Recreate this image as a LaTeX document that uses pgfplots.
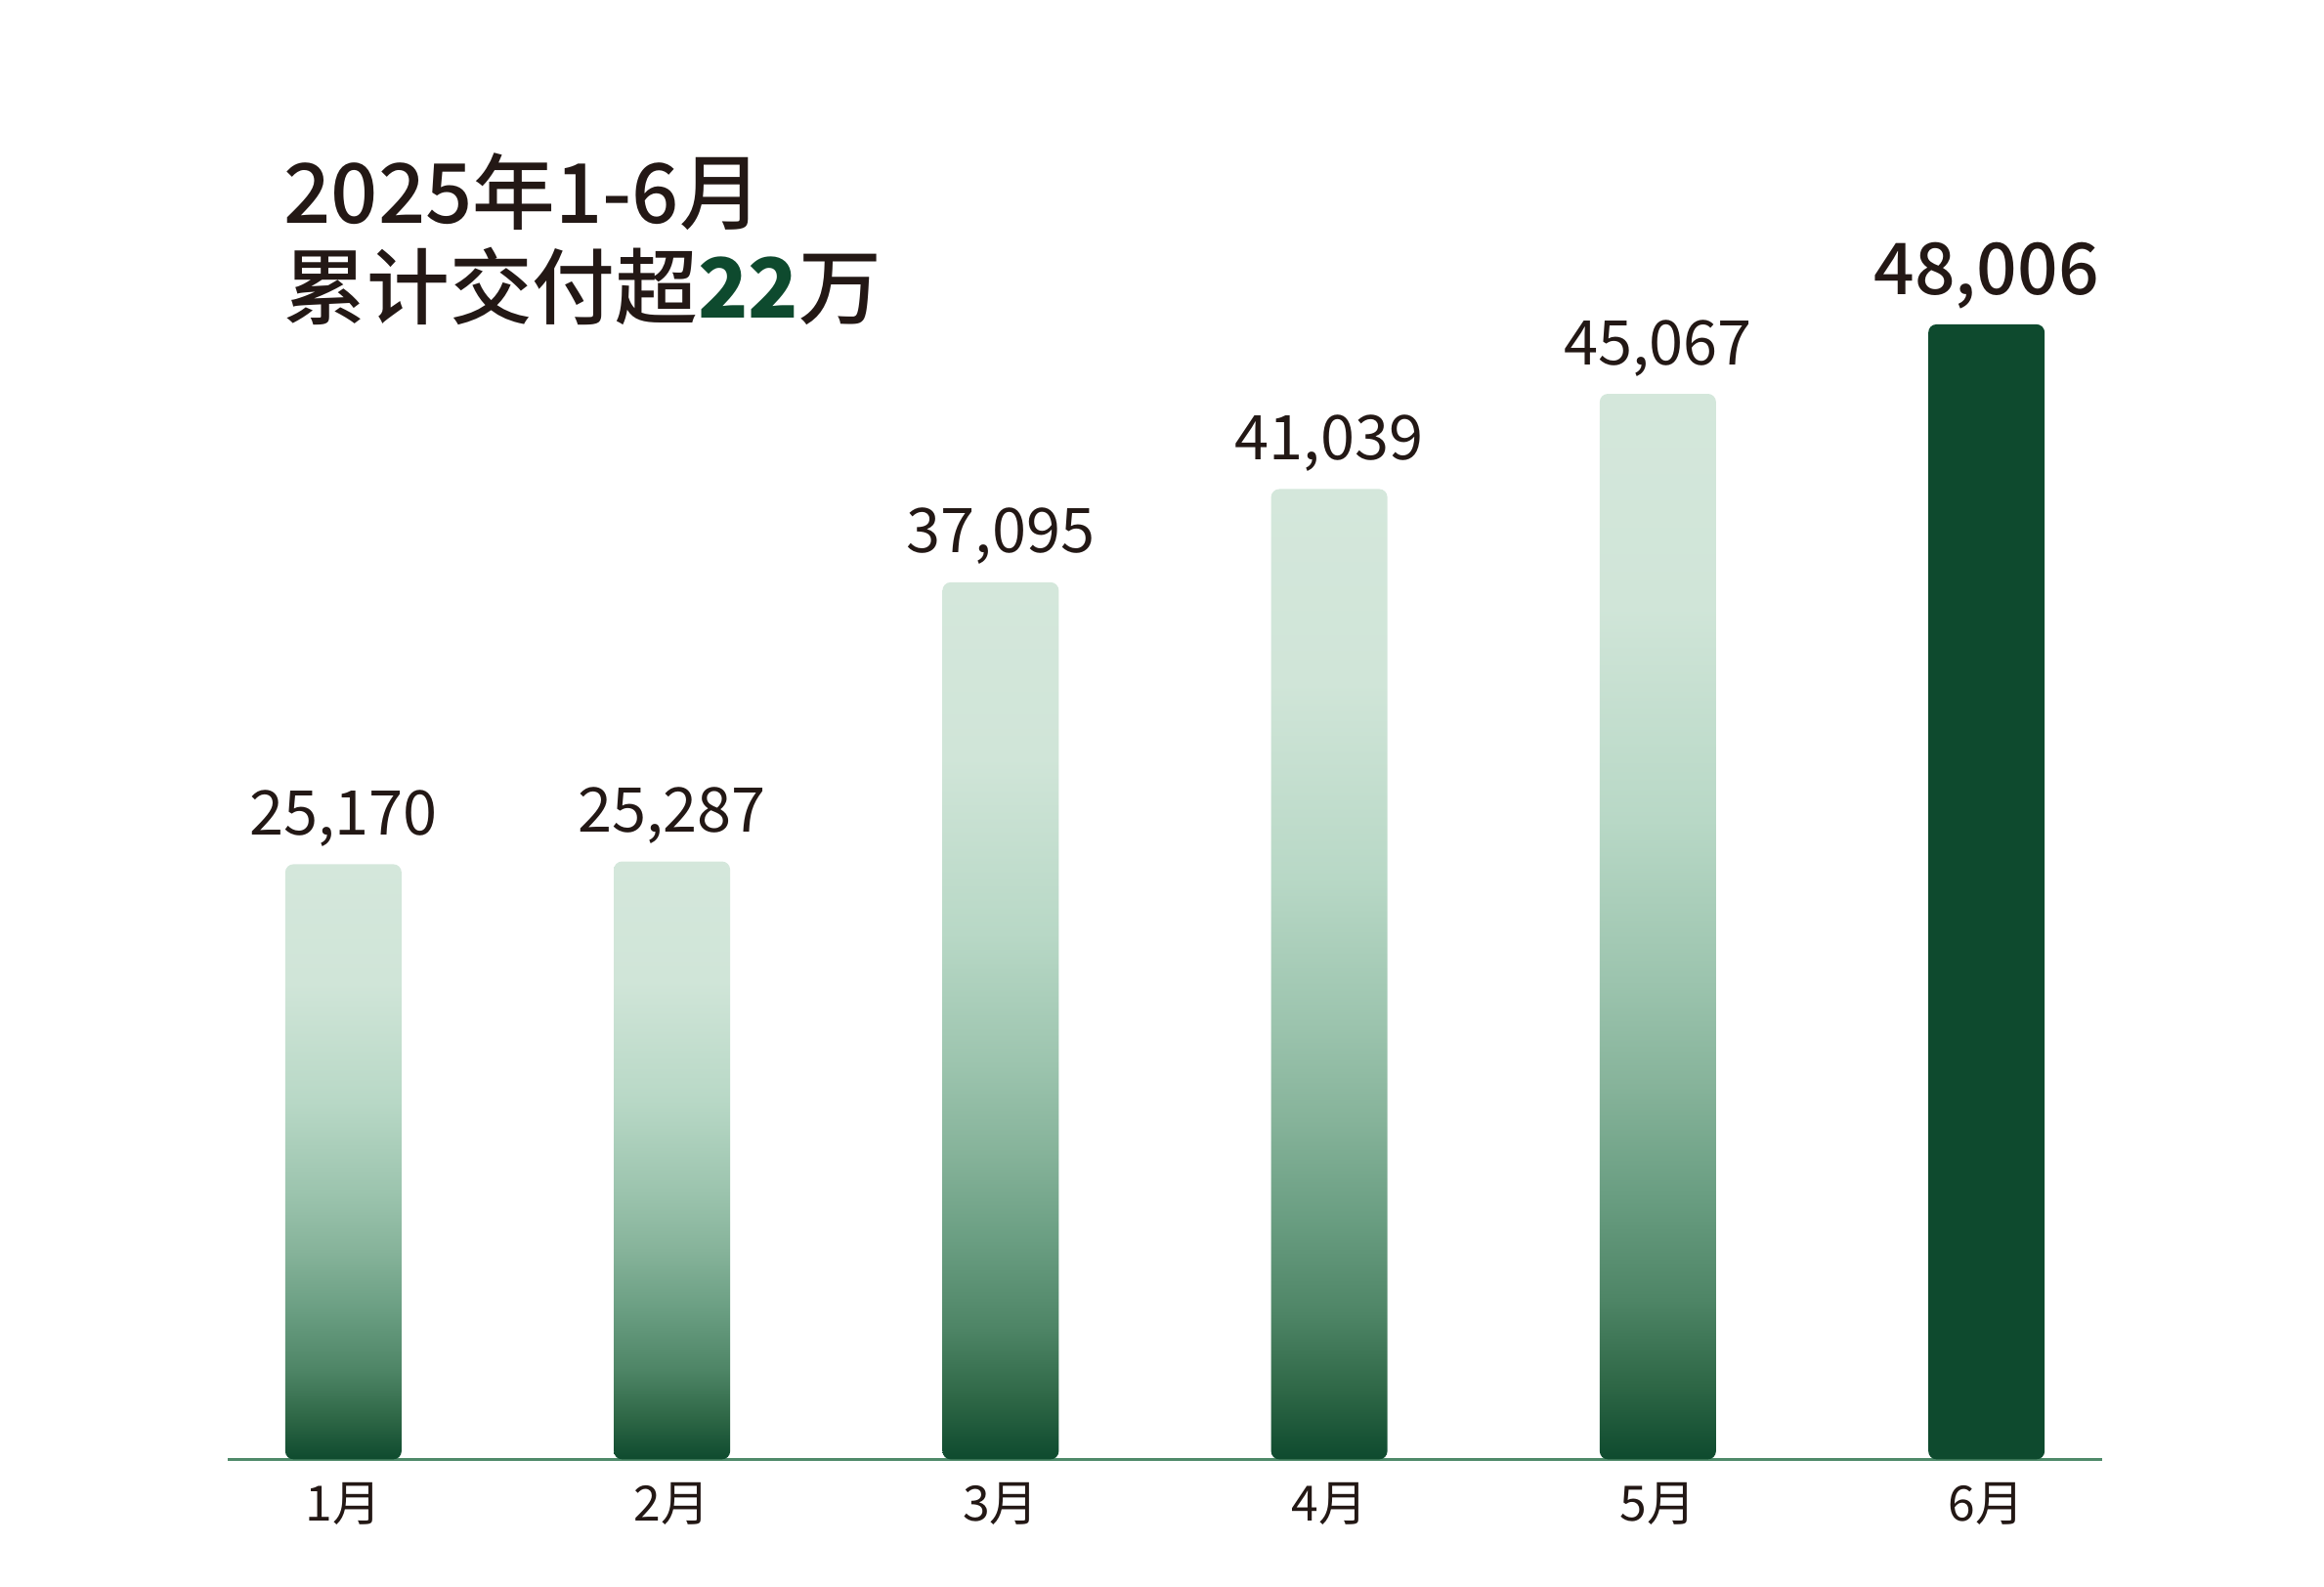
\documentclass[border=0pt]{standalone}
\usepackage{fontspec}
\setmainfont{Noto Sans CJK SC}
\newfontfamily\medfont{Noto Sans CJK SC Medium}
\usepackage{pgfplots}
\pgfplotsset{compat=1.18}

\definecolor{ink}{HTML}{231815}
\definecolor{darkgreen}{HTML}{0E4A2E}
\definecolor{baseline}{HTML}{4F8A6A}

% light mint at the top of each bar, dark green at its foot
\pgfdeclareverticalshading{bargrad}{100bp}{
  color(0bp)=(darkgreen);
  color(25bp)=(darkgreen);
  color(28.5bp)=(rgb,255:red,46;green,103;blue,70);
  color(32.5bp)=(rgb,255:red,78;green,133;blue,102);
  color(37.5bp)=(rgb,255:red,106;green,158;blue,130);
  color(42.5bp)=(rgb,255:red,134;green,179;blue,154);
  color(47.5bp)=(rgb,255:red,156;green,196;blue,174);
  color(55bp)=(rgb,255:red,184;green,216;blue,198);
  color(65bp)=(rgb,255:red,208;green,229;blue,216);
  color(75bp)=(rgb,255:red,212;green,231;blue,219);
  color(100bp)=(rgb,255:red,212;green,231;blue,219)}

\pgfplotsset{
  gradbar/.style={draw=none, shading=bargrad, rounded corners=2.5bp,
    every node near coord/.append style={font=\fontsize{19}{19}\selectfont}},
}

\begin{document}
\begin{tikzpicture}
\useasboundingbox (0,0) rectangle (713.4bp,487.2bp);

\begin{axis}[
    at={(69.9bp,39.2bp)}, anchor=south west,
    scale only axis, width=575.4bp, height=362.9bp,
    xmin=-0.352, xmax=5.352,
    % bars start below the visible bottom so the rounded foot is clipped
    y filter/.expression={y+2000},
    ymin=2000, ymax=52000,
    axis x line*=bottom, axis y line=none,
    axis line style={color=baseline, line width=0.8bp},
    xtick={0,...,5},
    xticklabels={1月,2月,3月,4月,5月,6月},
    major tick length=0pt,
    xticklabel style={font=\fontsize{15}{15}\selectfont, text=ink, anchor=base, yshift=-18.8bp},
    ybar, bar width=35.7bp, bar shift=0pt,
    point meta=explicit,
    /pgf/number format/.cd, fixed, precision=0, 1000 sep={,}, assume math mode=true,
    /pgfplots/.cd,
    nodes near coords,
    every node near coord/.append style={anchor=base, yshift=9bp, text=ink},
]
% one plot per bar, so that each bar gets its own gradient
\addplot[gradbar] coordinates {(0,25170)[25170]};
\addplot[gradbar] coordinates {(1,25287)[25287]};
\addplot[gradbar] coordinates {(2,37095)[37095]};
\addplot[gradbar] coordinates {(3,41039)[41039]};
\addplot[gradbar] coordinates {(4,45067)[45067]};
\addplot[draw=none, fill=darkgreen, rounded corners=2.5bp,
    every node near coord/.append style={font=\medfont\fontsize{22}{22}\selectfont}]
    coordinates {(5,48006)[48006]};
\end{axis}

\node[anchor=base west, inner sep=0pt, text=ink, font=\medfont\fontsize{25.5}{25.5}\selectfont]
  at (87bp,418.6bp) {2025年1-6月};
\node[anchor=base west, inner sep=0pt, text=ink, font=\medfont\fontsize{25.5}{25.5}\selectfont]
  at (87bp,389.4bp) {累计交付超{\bfseries\color{darkgreen}22}万};
\end{tikzpicture}
\end{document}
